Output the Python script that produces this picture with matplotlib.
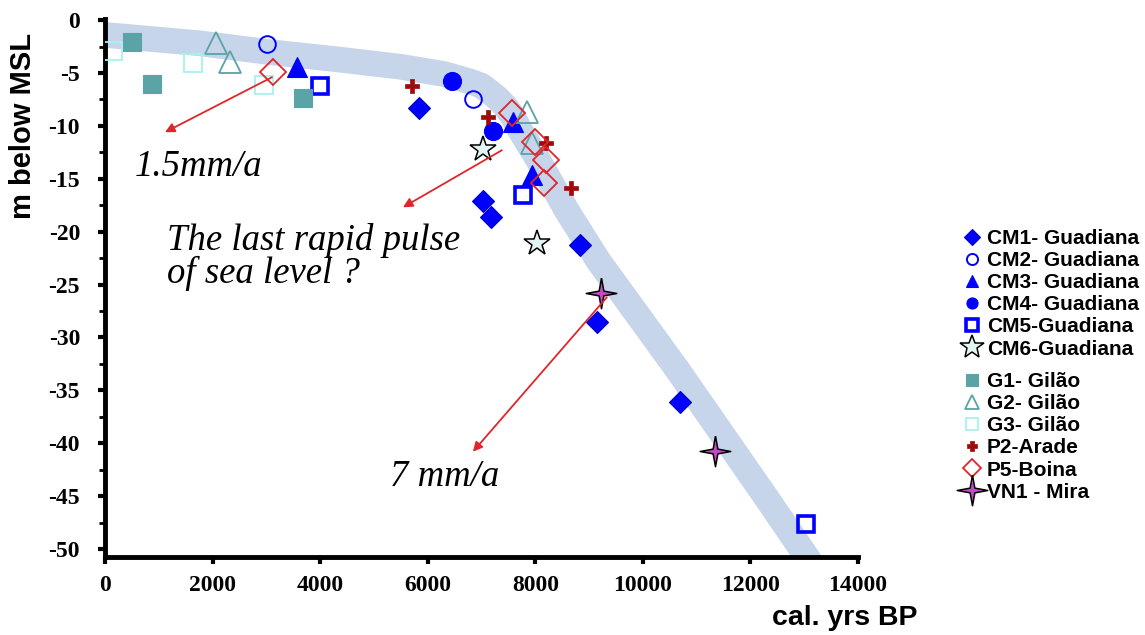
import numpy as np
import matplotlib.pyplot as plt
from matplotlib.lines import Line2D

plt.rcParams['axes.unicode_minus'] = False

# values: cal. yrs BP and m relative to MSL
cm1_x = [5840, 7030, 7175, 8830, 9145, 10690]
cm1_y = [-8.3, -17.1, -18.6, -21.3, -28.5, -36.1]
cm2_x = [3010, 6840]
cm2_y = [-2.3, -7.5]
cm3_x = [3570, 7585, 7940]
cm3_y = [-4.4, -9.6, -14.6]
cm4_x = [6450, 7210]
cm4_y = [-5.8, -10.5]
cm5_x = [4000, 7770, 13040]
cm5_y = [-6.2, -16.5, -47.6]
cm6_x = [7030, 8030]
cm6_y = [-12.2, -21.1]
g1_x = [500, 875, 3680]
g1_y = [-2.1, -6.0, -7.4]
g2_x = [2060, 2320, 7845, 7940]
g2_y = [-2.2, -4.0, -8.7, -11.6]
g3_x = [150, 1635, 2955]
g3_y = [-2.9, -4.1, -6.1]
p2_x = [5710, 7120, 8200, 8660]
p2_y = [-6.2, -9.2, -11.6, -15.9]
p5_x = [3120, 7565, 7995, 8200, 8160]
p5_y = [-4.9, -8.8, -11.5, -13.2, -15.4]
vn1_x = [9220, 11340]
vn1_y = [-25.8, -40.7]

# hand drawn sea level band
band_x = [0, 1770, 3010, 4300, 5480, 6300, 6785, 7000, 7155, 7300, 7435, 7580, 7715,
          8030, 8585, 9165, 10650, 12290, 13270]
band_y = [-1.4, -2.2, -3.0, -3.7, -4.4, -5.1, -5.8, -6.2, -6.8, -7.4, -8.1, -9.1, -10.4,
          -13.0, -18.0, -22.7, -33.1, -45.1, -52.4]

# four pointed star for VN1
ang = np.linspace(0, 2 * np.pi, 9)[:-1] + np.pi / 2
rad = np.array([1, 0.22] * 4)
star4 = np.column_stack([rad * np.cos(ang), rad * np.sin(ang)])
star4 = np.vstack([star4, star4[:1]])

blue = '#0000ff'
teal = '#5aa3a6'
lcyan = '#a8f0f0'
dred = '#9e0b0b'
red = '#e0262a'

styles = {
    'CM1- Guadiana': dict(marker='D', ms=11, mfc=blue, mec='#0000c0', mew=0.8),
    'CM2- Guadiana': dict(marker='o', ms=12, mfc='none', mec=blue, mew=1.4),
    'CM3- Guadiana': dict(marker='^', ms=14, mfc=blue, mec=blue, mew=0.8),
    'CM4- Guadiana': dict(marker='o', ms=13, mfc=blue, mec=blue, mew=0.8),
    'CM5-Guadiana': dict(marker='s', ms=11, mfc='none', mec=blue, mew=2.6),
    'CM6-Guadiana': dict(marker='*', ms=19, mfc='#e2f5f3', mec='black', mew=1.1),
    'G1- Gilão': dict(marker='s', ms=13, mfc=teal, mec=teal, mew=0.8),
    'G2- Gilão': dict(marker='^', ms=16, mfc='none', mec=teal, mew=1.3),
    'G3- Gilão': dict(marker='s', ms=13, mfc='none', mec=lcyan, mew=1.3),
    'P2-Arade': dict(marker='P', ms=10, mfc=dred, mec=dred, mew=0.5),
    'P5-Boina': dict(marker='D', ms=13, mfc='none', mec=red, mew=1.3),
    'VN1 - Mira': dict(marker=star4, ms=22, mfc='#c24ac2', mec='black', mew=1.1),
}
series = [
    ('CM1- Guadiana', cm1_x, cm1_y), ('CM2- Guadiana', cm2_x, cm2_y),
    ('CM3- Guadiana', cm3_x, cm3_y), ('CM4- Guadiana', cm4_x, cm4_y),
    ('CM5-Guadiana', cm5_x, cm5_y), ('CM6-Guadiana', cm6_x, cm6_y),
    ('G1- Gilão', g1_x, g1_y), ('G2- Gilão', g2_x, g2_y), ('G3- Gilão', g3_x, g3_y),
    ('P2-Arade', p2_x, p2_y), ('P5-Boina', p5_x, p5_y), ('VN1 - Mira', vn1_x, vn1_y),
]
legend_ms = {'CM1- Guadiana': 8, 'CM2- Guadiana': 8, 'CM3- Guadiana': 9,
             'CM4- Guadiana': 8, 'CM5-Guadiana': 8, 'CM6-Guadiana': 18,
             'G1- Gilão': 8, 'G2- Gilão': 10, 'G3- Gilão': 9, 'P2-Arade': 7,
             'P5-Boina': 9, 'VN1 - Mira': 22}

fig = plt.figure(figsize=(11.45, 6.35), dpi=100)
ax = fig.add_axes([105 / 1145, 1 - 557 / 635, 753 / 1145, 538.5 / 635])

ax.plot(band_x, band_y, color='#c7d5eb', lw=18.5, solid_joinstyle='round',
        solid_capstyle='butt', zorder=1)

for name, xs, ys in series:
    ax.plot(xs, ys, ls='none', zorder=3, **styles[name])

# arrows and comments
arrow = dict(arrowstyle='-|>', color=red, lw=1.3, mutation_scale=14, shrinkA=0, shrinkB=0)
ax.annotate('', xy=(1115, -10.6), xytext=(3104, -5.4), arrowprops=arrow, zorder=4)
ax.annotate('', xy=(5539, -17.7), xytext=(7379, -12.3), arrowprops=arrow, zorder=4)
ax.annotate('', xy=(6840, -40.8), xytext=(9331, -26.2), arrowprops=arrow, zorder=4)

note = dict(family='Liberation Serif', style='italic', fontsize=26.5, ha='left', va='center')
ax.text(560, -13.9, '1.5mm/a', **note)
ax.text(1150, -20.8, 'The last rapid pulse', **note)
ax.text(1150, -23.9, 'of sea level ?', **note)
ax.text(5300, -43.2, '7 mm/a', **note)

ax.set_xlim(0, 14000)
ax.set_ylim(-50.75, 0.15)
ax.set_xticks(range(0, 14001, 2000))
ax.set_yticks(range(0, -51, -5))
ax.set_yticks(np.arange(-2.5, -50, -5), minor=True)
for s in ['top', 'right']:
    ax.spines[s].set_visible(False)
for s in ['left', 'bottom']:
    ax.spines[s].set_linewidth(3.5)
ax.tick_params(axis='both', which='major', direction='out', length=5, width=3, pad=8)
ax.tick_params(axis='y', which='major', pad=13)
ax.tick_params(axis='y', which='minor', direction='out', length=4, width=2)
for lab in ax.get_xticklabels() + ax.get_yticklabels():
    lab.set_family('Liberation Serif')
    lab.set_fontweight('bold')
    lab.set_fontsize(17)

fig.text(23 / 1145, 1 - 126 / 635, 'm below MSL', rotation=90, ha='center', va='center',
         family='Liberation Sans', fontweight='bold', fontsize=21)
fig.text(918 / 1145, 1 - 618 / 635, 'cal. yrs BP', ha='right', va='center',
         family='Liberation Sans', fontweight='bold', fontsize=20.5)

handles = []
for name, xs, ys in series:
    st = dict(styles[name])
    st['ms'] = legend_ms[name]
    handles.append(Line2D([], [], ls='none', label=name, **st))

leg_font = dict(family='Liberation Sans', weight='bold', size=15)
leg_opts = dict(loc='upper left', frameon=False, prop=leg_font, handlelength=1.0,
                handletextpad=0.2, labelspacing=0.15, borderpad=0, borderaxespad=0)
leg1 = fig.legend(handles=handles[:6], bbox_to_anchor=(962 / 1145, 1 - 229 / 635), **leg_opts)
leg2 = fig.legend(handles=handles[6:], bbox_to_anchor=(962 / 1145, 1 - 372 / 635), **leg_opts)

fig.savefig('out.png', dpi=100)
